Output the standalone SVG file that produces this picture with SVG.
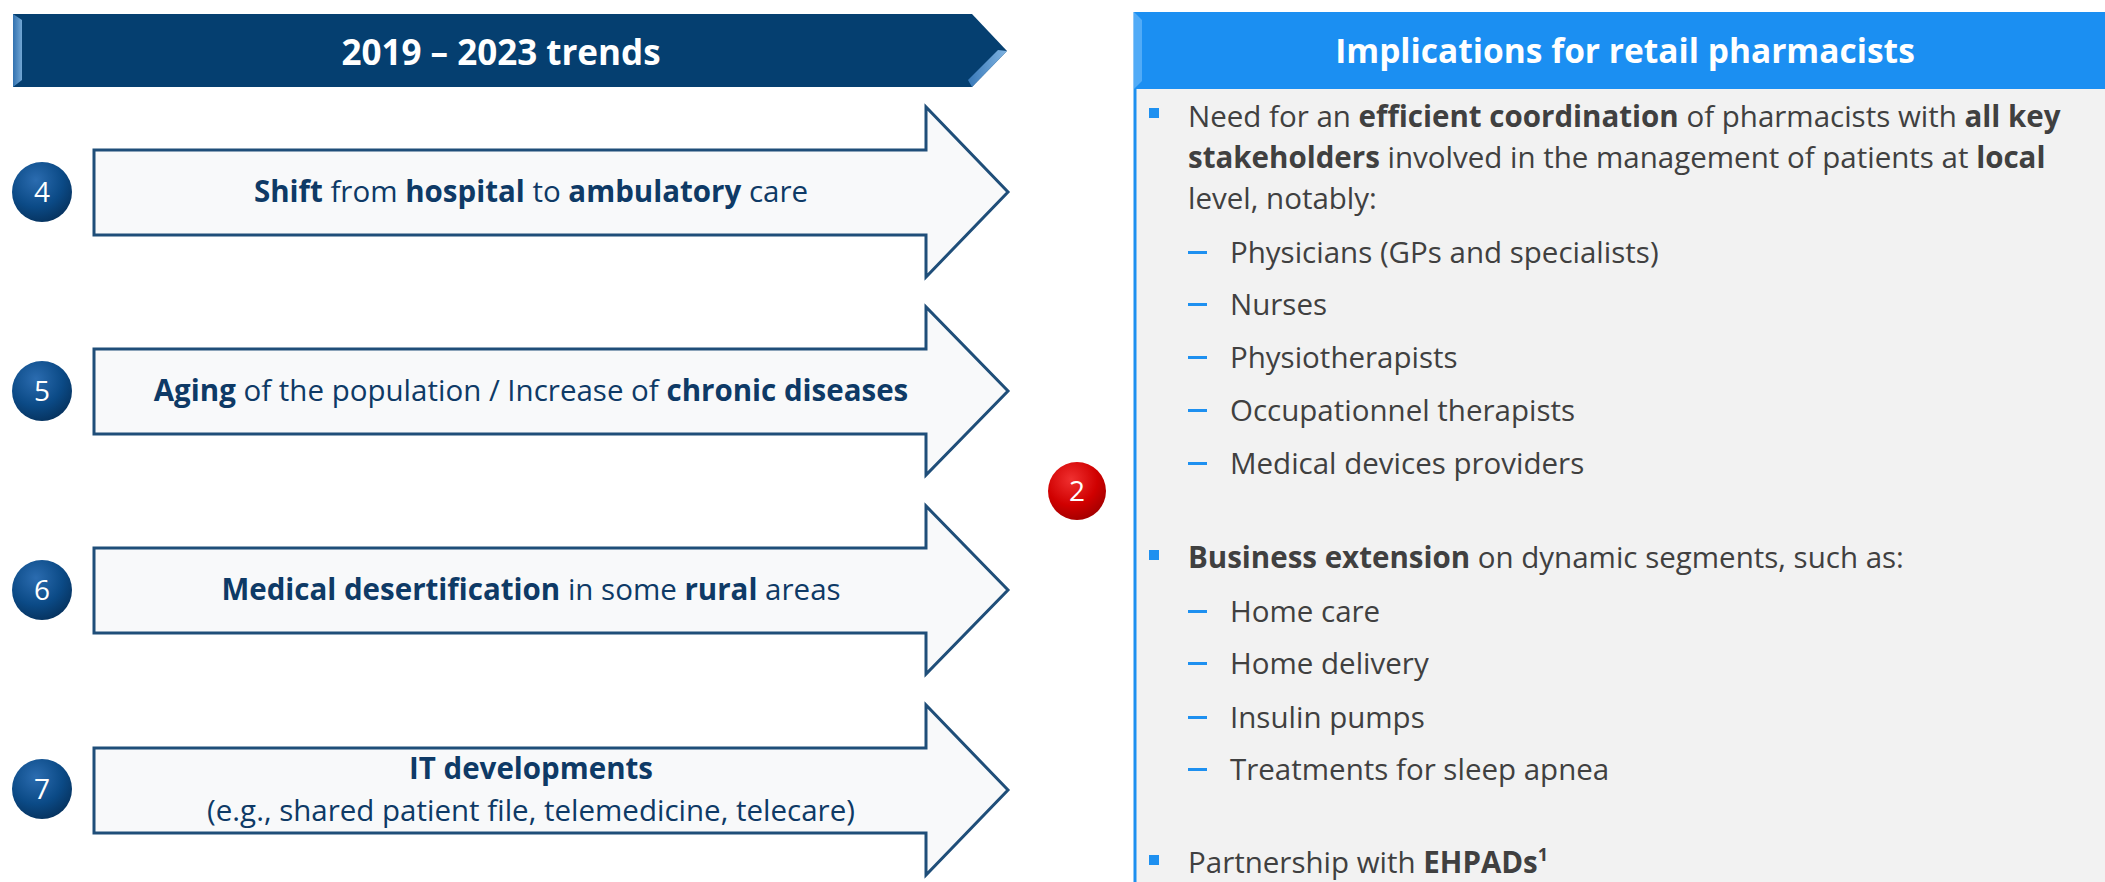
<svg xmlns="http://www.w3.org/2000/svg" width="2105" height="882" viewBox="0 0 2105 882">
<defs>
<radialGradient id="gBlue" cx="0.4" cy="0.3" r="0.75">
<stop offset="0" stop-color="#2B6CB0"/>
<stop offset="0.6" stop-color="#0B4A86"/>
<stop offset="1" stop-color="#06315C"/>
</radialGradient>
<radialGradient id="gRed" cx="0.4" cy="0.3" r="0.75">
<stop offset="0" stop-color="#F03030"/>
<stop offset="0.6" stop-color="#D00000"/>
<stop offset="1" stop-color="#A00000"/>
</radialGradient>
<linearGradient id="gBevel" x1="0" y1="0" x2="1" y2="0">
<stop offset="0" stop-color="#3E7FC0"/>
<stop offset="1" stop-color="#8EC1EE"/>
</linearGradient>
<style>
.arrow{fill:#F8F9FA;stroke:#1F4E79;stroke-width:3;stroke-linejoin:miter}
.atxt{font-family:"Open Sans","Liberation Sans",sans-serif;font-size:29.5px;fill:#0E3A66;text-anchor:middle}
.b{font-weight:bold}
.num{font-family:"Open Sans","Liberation Sans",sans-serif;font-size:28px;fill:#FFFFFF;text-anchor:middle}
.rtxt{font-family:"Open Sans","Liberation Sans",sans-serif;font-size:29.5px;fill:#404040}
.htxt{font-family:"Open Sans","Liberation Sans",sans-serif;font-weight:bold;fill:#FFFFFF;text-anchor:middle}
.bul{fill:#1E90F0}
</style>
</defs>
<rect width="2105" height="882" fill="#FFFFFF"/>

<g id="header-left">
<path d="M13,14 L972,14 L1007,51 L972,87 L13,87 Z" fill="#053F70"/>
<path d="M13,14 L22,20 L22,80 L13,87 Z" fill="url(#gBevel)" opacity="0.8"/>
<path d="M1007,51 L972,87 L968,80 L998,50 Z" fill="url(#gBevel)" opacity="0.9"/>
<text class="htxt" x="501" y="65" font-size="35">2019 – 2023 trends</text>
</g>

<g id="trend-4">
<path class="arrow" d="M94,150 L926,150 L926,107 L1008,192 L926,277 L926,235 L94,235 Z"/>
<text class="atxt" x="531" y="202"><tspan class="b">Shift</tspan> from <tspan class="b">hospital</tspan> to <tspan class="b">ambulatory</tspan> care</text>
<circle cx="42" cy="192" r="30" fill="url(#gBlue)"/>
<text class="num" x="42" y="202">4</text>
</g>

<g id="trend-5">
<path class="arrow" d="M94,349 L926,349 L926,307 L1008,391 L926,475 L926,434 L94,434 Z"/>
<text class="atxt" x="531" y="401"><tspan class="b">Aging</tspan> of the population / Increase of <tspan class="b">chronic diseases</tspan></text>
<circle cx="42" cy="391" r="30" fill="url(#gBlue)"/>
<text class="num" x="42" y="401">5</text>
</g>

<g id="trend-6">
<path class="arrow" d="M94,548 L926,548 L926,506 L1008,590 L926,674 L926,633 L94,633 Z"/>
<text class="atxt" x="531" y="600"><tspan class="b">Medical desertification</tspan> in some <tspan class="b">rural</tspan> areas</text>
<circle cx="42" cy="590" r="30" fill="url(#gBlue)"/>
<text class="num" x="42" y="600">6</text>
</g>

<g id="trend-7">
<path class="arrow" d="M94,748 L926,748 L926,705 L1008,790 L926,875 L926,833 L94,833 Z"/>
<text class="atxt" x="531" y="779"><tspan class="b">IT developments</tspan></text>
<text class="atxt" x="531" y="821">(e.g., shared patient file, telemedicine, telecare)</text>
<circle cx="42" cy="789" r="30" fill="url(#gBlue)"/>
<text class="num" x="42" y="799">7</text>
</g>

<g id="badge-2">
<circle cx="1077" cy="491" r="29" fill="url(#gRed)"/>
<text class="num" x="1077" y="501">2</text>
</g>

<g id="implications">
<rect x="1134" y="89" width="971" height="793" fill="#F2F2F2"/>
<line x1="1135" y1="12" x2="1135" y2="882" stroke="#1E90F0" stroke-width="3"/>
<rect x="1134" y="12" width="971" height="77" fill="#1B8FF2"/>
<path d="M1134,12 L1142,20 L1142,81 L1134,89 Z" fill="#5FB1F7" opacity="0.8"/>
<text class="htxt" x="1625" y="63" font-size="33.5">Implications for retail pharmacists</text>

<rect class="bul" x="1149" y="108" width="10" height="10"/>
<text class="rtxt" x="1188" y="127">Need for an <tspan font-weight="bold">efficient coordination</tspan> of pharmacists with <tspan font-weight="bold">all key</tspan></text>
<text class="rtxt" x="1188" y="168"><tspan font-weight="bold">stakeholders</tspan> involved in the management of patients at <tspan font-weight="bold">local</tspan></text>
<text class="rtxt" x="1188" y="209">level, notably:</text>

<rect class="bul" x="1188" y="251" width="19" height="3"/>
<text class="rtxt" x="1230" y="263">Physicians (GPs and specialists)</text>
<rect class="bul" x="1188" y="303" width="19" height="3"/>
<text class="rtxt" x="1230" y="315">Nurses</text>
<rect class="bul" x="1188" y="356" width="19" height="3"/>
<text class="rtxt" x="1230" y="368">Physiotherapists</text>
<rect class="bul" x="1188" y="409" width="19" height="3"/>
<text class="rtxt" x="1230" y="421">Occupationnel therapists</text>
<rect class="bul" x="1188" y="462" width="19" height="3"/>
<text class="rtxt" x="1230" y="474">Medical devices providers</text>

<rect class="bul" x="1149" y="550" width="10" height="10"/>
<text class="rtxt" x="1188" y="568"><tspan font-weight="bold">Business extension</tspan> on dynamic segments, such as:</text>
<rect class="bul" x="1188" y="610" width="19" height="3"/>
<text class="rtxt" x="1230" y="622">Home care</text>
<rect class="bul" x="1188" y="662" width="19" height="3"/>
<text class="rtxt" x="1230" y="674">Home delivery</text>
<rect class="bul" x="1188" y="716" width="19" height="3"/>
<text class="rtxt" x="1230" y="728">Insulin pumps</text>
<rect class="bul" x="1188" y="768" width="19" height="3"/>
<text class="rtxt" x="1230" y="780">Treatments for sleep apnea</text>

<rect class="bul" x="1149" y="855" width="10" height="10"/>
<text class="rtxt" x="1188" y="873">Partnership with <tspan font-weight="bold">EHPADs</tspan><tspan font-weight="bold" font-size="18" dy="-12">1</tspan></text>
</g>
</svg>
